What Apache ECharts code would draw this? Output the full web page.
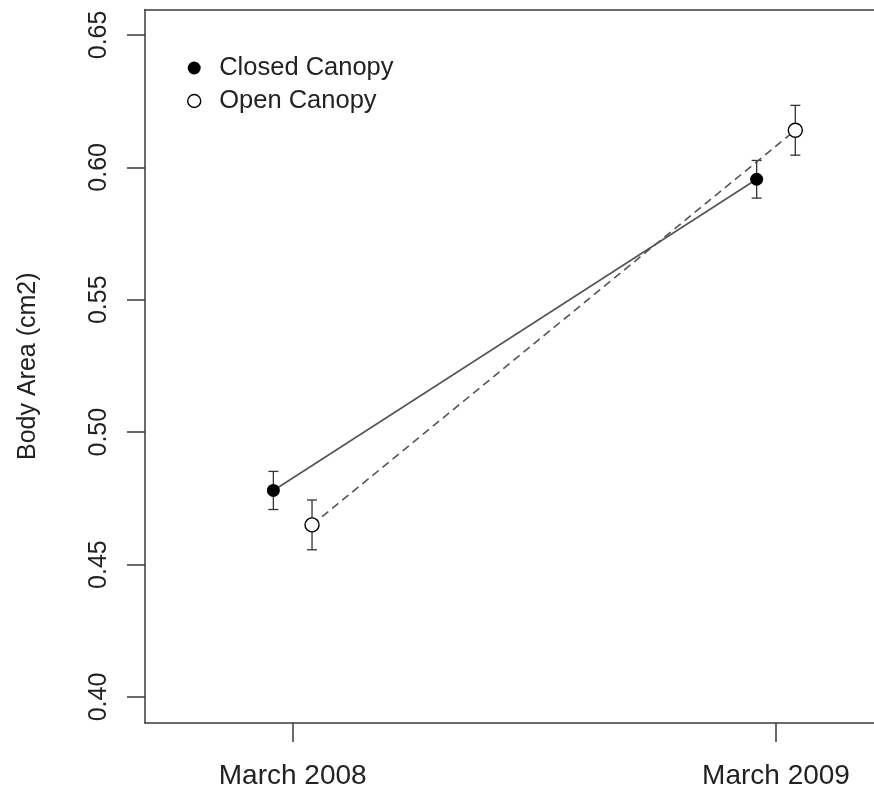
<!DOCTYPE html>
<html>
<head>
<meta charset="utf-8">
<script src="https://cdn.jsdelivr.net/npm/echarts@6/dist/echarts.min.js"></script>
<style>
  html, body { margin: 0; padding: 0; background: #fff; }
  #chart { width: 874px; height: 797px; }
</style>
</head>
<body>
<div id="chart"></div>
<script>
// Sampling dates (x positions 1 and 2)
const categories = ['March 2008', 'March 2009'];

// Mean body area (cm2) and standard error per canopy type
const closedMean = [0.478, 0.5955];
const closedSE   = [0.0072, 0.0071];
const openMean   = [0.465, 0.614];
const openSE     = [0.0094, 0.0094];

// Y axis tick values
const yTicks = [0.40, 0.45, 0.50, 0.55, 0.60, 0.65];

const seriesNames = ['Closed Canopy', 'Open Canopy'];

// horizontal dodge so the two groups do not overlap
const dodge = 0.04;
const xIdx = categories.map((_, i) => i + 1);

const closedPts = xIdx.map((x, i) => [x - dodge, closedMean[i]]);
const openPts   = xIdx.map((x, i) => [x + dodge, openMean[i]]);
const closedErr = xIdx.map((x, i) => [x - dodge, closedMean[i] - closedSE[i], closedMean[i] + closedSE[i]]);
const openErr   = xIdx.map((x, i) => [x + dodge, openMean[i] - openSE[i], openMean[i] + openSE[i]]);

const FONT = 'Liberation Sans, Arial, Helvetica, sans-serif';
const AXIS = '#3a3a3a';
const LINE = '#555555';

function errorBars(params, api) {
  const x = api.value(0);
  const lo = api.coord([x, api.value(1)]);
  const hi = api.coord([x, api.value(2)]);
  const cap = 5;
  const style = { stroke: '#333', lineWidth: 1.3, fill: null };
  return {
    type: 'group',
    children: [
      { type: 'line', shape: { x1: lo[0], y1: lo[1], x2: hi[0], y2: hi[1] }, style },
      { type: 'line', shape: { x1: lo[0] - cap, y1: lo[1], x2: lo[0] + cap, y2: lo[1] }, style },
      { type: 'line', shape: { x1: hi[0] - cap, y1: hi[1], x2: hi[0] + cap, y2: hi[1] }, style }
    ]
  };
}

const chart = echarts.init(document.getElementById('chart'), null, { renderer: 'canvas' });

chart.setOption({
  animation: false,
  backgroundColor: '#ffffff',
  textStyle: { fontFamily: FONT },
  grid: { left: 145, right: 0, top: 9.5, bottom: 74, containLabel: false, outerBoundsMode: 'none' },
  legend: {
    orient: 'vertical',
    left: 182,
    top: 50,
    itemWidth: 40,
    itemHeight: 13,
    itemGap: 7,
    textStyle: { fontFamily: FONT, fontSize: 25.5, color: '#222' },
    data: [
      { name: seriesNames[0], icon: 'circle', itemStyle: { color: '#000', borderWidth: 0 } },
      { name: seriesNames[1], icon: 'circle', itemStyle: { color: '#fff', borderColor: '#000', borderWidth: 1.4 } }
    ]
  },
  xAxis: [
    {
      type: 'value',
      min: 0.6944,
      max: 2.2028,
      position: 'bottom',
      splitLine: { show: false },
      axisLine: { show: true, onZero: false, lineStyle: { color: AXIS, width: 1.5 } },
      axisTick: { show: true, inside: false, length: 19, customValues: xIdx, lineStyle: { color: AXIS, width: 1.5 } },
      axisLabel: {
        customValues: xIdx,
        margin: 39,
        fontFamily: FONT,
        fontSize: 28,
        color: '#222',
        formatter: v => categories[Math.round(v) - 1] || ''
      }
    },
    {
      type: 'value',
      min: 0.6944,
      max: 2.2028,
      position: 'top',
      splitLine: { show: false },
      axisLine: { show: true, onZero: false, lineStyle: { color: AXIS, width: 1.5 } },
      axisTick: { show: false },
      axisLabel: { show: false }
    }
  ],
  yAxis: {
    type: 'value',
    min: 0.3902,
    max: 0.6596,
    name: 'Body Area (cm2)',
    nameLocation: 'middle',
    nameGap: 104,
    nameRotate: 90,
    nameTextStyle: { fontFamily: FONT, fontSize: 25, color: '#222' },
    splitLine: { show: false },
    axisLine: { show: true, onZero: false, lineStyle: { color: AXIS, width: 1.5 } },
    axisTick: { show: true, length: 18, customValues: yTicks, lineStyle: { color: AXIS, width: 1.5 } },
    axisLabel: {
      customValues: yTicks,
      rotate: 90,
      margin: 33,
      fontFamily: FONT,
      fontSize: 25,
      color: '#222',
      formatter: v => v.toFixed(2)
    }
  },
  series: [
    {
      type: 'custom',
      name: 'closed-se',
      renderItem: errorBars,
      data: closedErr,
      encode: { x: 0, y: [1, 2] },
      z: 1,
      silent: true
    },
    {
      type: 'custom',
      name: 'open-se',
      renderItem: errorBars,
      data: openErr,
      encode: { x: 0, y: [1, 2] },
      z: 1,
      silent: true
    },
    {
      name: seriesNames[0],
      type: 'line',
      data: closedPts,
      symbol: 'circle',
      symbolSize: 13,
      itemStyle: { color: '#000', borderWidth: 0 },
      lineStyle: { color: LINE, width: 1.6, type: 'solid' },
      z: 3
    },
    {
      name: seriesNames[1],
      type: 'line',
      data: openPts,
      symbol: 'circle',
      symbolSize: 14,
      itemStyle: { color: '#fff', borderColor: '#000', borderWidth: 1.4 },
      lineStyle: { color: LINE, width: 1.6, type: [8, 5] },
      z: 3
    }
  ]
});
</script>
</body>
</html>
